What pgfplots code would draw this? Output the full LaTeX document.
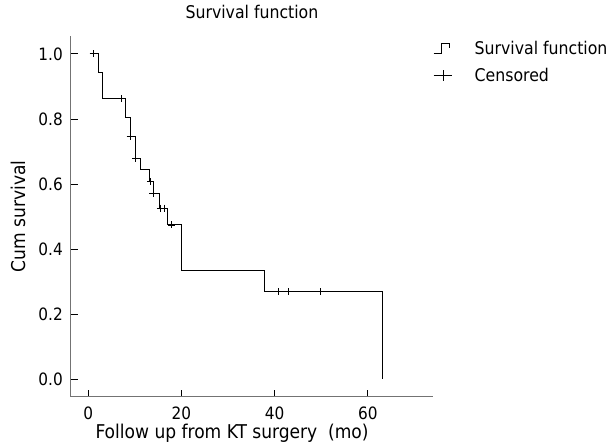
\documentclass[border=0pt]{standalone}
\usepackage{fontspec}
\setmainfont{DejaVu Sans Condensed}
\usepackage{pgfplots}
\pgfplotsset{compat=1.18}

\begin{document}
\begin{tikzpicture}
\useasboundingbox (0,0) rectangle (611pt,-443pt);
\begin{axis}[
    at={(71pt,-397pt)}, anchor=south west,
    scale only axis,
    width=362pt, height=361pt,
    xmin=-3.7, xmax=74,
    ymin=-0.055, ymax=1.055,
    axis lines=left,
    axis line style={black!55, line width=1pt, -},
    xtick={0,20,40,60},
    ytick={0,0.2,0.4,0.6,0.8,1.0},
    tick align=inside,
    major tick length=7pt,
    tick style={black, line width=0.8pt},
    font=\fontsize{17}{20}\selectfont,
    /pgf/number format/assume math mode=true,
    yticklabel style={/pgf/number format/.cd, fixed, fixed zerofill, precision=1, /tikz/.cd, anchor=east, inner sep=0pt, xshift=-8pt},
    xticklabel style={anchor=north, inner sep=0pt, yshift=-10pt},
    title={Survival function},
    title style={at={(axis description cs:0.5,1.033)}, anchor=base, inner sep=0pt, font=\fontsize{17.5}{20}\selectfont},
    xlabel={Follow up from KT surgery\ \ (mo)},
    xlabel style={at={(axis description cs:0.445,-0.1136)}, anchor=base, inner sep=0pt, font=\fontsize{19}{22}\selectfont},
    ylabel={Cum survival},
    ylabel style={at={(axis description cs:-0.1464,0.5)}, anchor=center, inner sep=0pt, font=\fontsize{19}{22}\selectfont},
    legend style={at={(axis description cs:1.0,1.004)}, anchor=north west, draw=none, fill=none,
        inner sep=0pt, row sep=0pt, column sep=0pt, font=\fontsize{17.5}{20}\selectfont,
        nodes={inner sep=0pt}},
    legend cell align=left,
]
\addplot[const plot, black, line width=1pt, mark=none,
    legend image code/.code={
        \path[draw=none, fill=none] (0pt,-13.5pt) rectangle (41pt,13.5pt);
        \draw[black, line width=1pt] (0pt,-5pt) -- (8pt,-5pt) -- (8pt,5pt) -- (16pt,5pt) -- (16pt,0pt);
    }] coordinates {
    (0.3,1.0) (2.2,0.944) (3.1,0.862) (8.1,0.805) (9.1,0.745) (10.2,0.678)
    (11.2,0.645) (13.1,0.607) (14.0,0.570) (15.3,0.526) (17.1,0.474)
    (20.1,0.335) (37.9,0.269) (63.1,0.0)
};
\addlegendentry{Survival function}
\addplot[only marks, mark=+, mark size=3.5pt, black, mark options={line width=0.9pt},
    legend image code/.code={
        \path[draw=none, fill=none] (0pt,-13.5pt) rectangle (41pt,13.5pt);
        \draw[black, line width=1pt] (0pt,0pt) -- (18pt,0pt);
        \draw[black, line width=1pt] (9.5pt,-5.5pt) -- (9.5pt,5.5pt);
    }] coordinates {
    (1.1,1.0) (7.2,0.862) (9.0,0.745) (10.2,0.678) (13.4,0.607) (13.9,0.570)
    (15.5,0.526) (16.3,0.526) (17.9,0.474) (40.9,0.269) (42.9,0.269) (49.9,0.269)
};
\addlegendentry{Censored}
\end{axis}
\end{tikzpicture}
\end{document}
